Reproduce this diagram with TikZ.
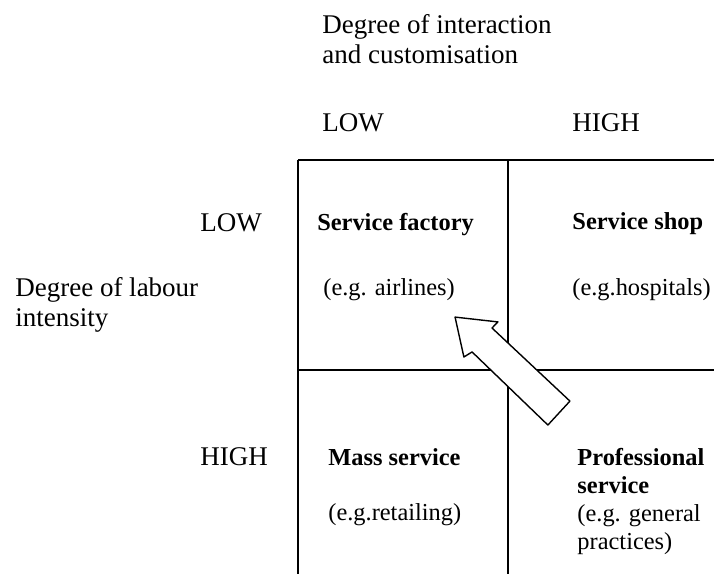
\documentclass[tikz,border=0pt]{standalone}
\usepackage{fontspec}
\setmainfont{Liberation Serif}

\tikzset{
	axistext/.style={inner sep=0pt, anchor=west, align=left, font=\fontsize{13.5}{15}\selectfont},
	celltext/.style={inner sep=0pt, anchor=west, align=left, font=\fontsize{12.2}{14}\selectfont},
	cellhead/.style={celltext, font=\fontsize{12.2}{14}\selectfont\bfseries},
}

\begin{document}
\begin{tikzpicture}[x=105pt, y=105pt]
	\useasboundingbox (-1.419,-1.971) rectangle (1.981,0.762);

	% open 2x2 matrix, only inner and top/left rules
	\draw[line width=0.7pt] (0,-1.971) grid[step=1] (1.981,0);

	% axis titles
	\node[axistext] (colaxis) at (0.114,0.576) {Degree of interaction\\and customisation};
	\node[axistext] (rowaxis) at (-1.348,-0.690) {Degree of labour\\intensity};

	% LOW/HIGH along both axes
	\node[axistext] (collow) at (0.114,0.176) {LOW};
	\node[axistext] (colhigh) at (1.305,0.176) {HIGH};
	\node[axistext] (rowlow) at (-0.467,-0.300) {LOW};
	\node[axistext] (rowhigh) at (-0.467,-1.414) {HIGH};

	% cells
	\foreach \n\i\j\t in {factory/0.090/-0.305/Service factory, shop/1.305/-0.305/Service shop, mass/0.143/-1.414/Mass service}{
		\node[cellhead] (\n) at (\i,\j) {\t};
	}
	\foreach \n\i\j\t in {airlines/0.119/-0.619/(e.g. airlines), hospitals/1.305/-0.619/(e.g.hospitals), retailing/0.143/-1.690/(e.g.retailing)}{
		\node[celltext] (\n) at (\i,\j) {\t};
	}
	\node[celltext] (professional) at (1.329,-1.628) {\textbf{Professional}\\\textbf{service}\\(e.g. general\\practices)};

	% block arrow from professional service up to the service factory
	\draw[line width=0.7pt, fill=white, line join=round]
		(0.748,-0.748) -- (0.952,-0.771) -- (0.924,-0.800) -- (1.295,-1.148)
		-- (1.190,-1.262) -- (0.829,-0.914) -- (0.790,-0.938) -- cycle;
\end{tikzpicture}
\end{document}
